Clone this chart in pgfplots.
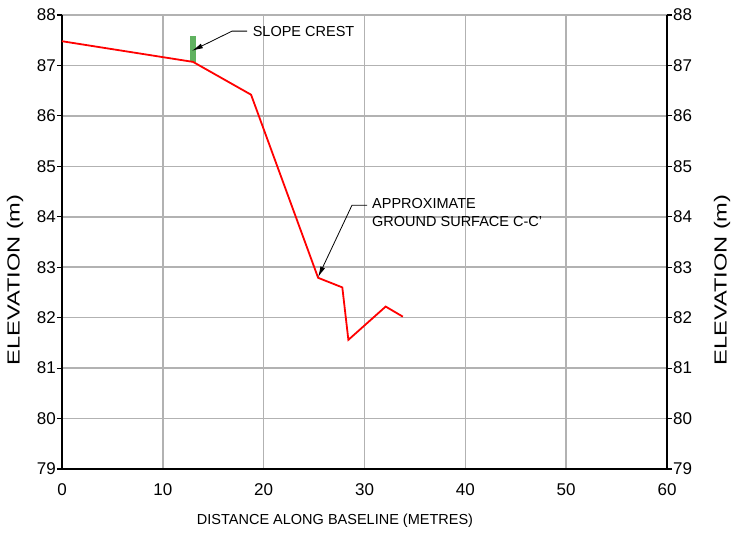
\documentclass[border=0pt]{standalone}
\usepackage{fontspec}
\setmainfont{Liberation Sans}
\usepackage{graphicx}
\usepackage{pgfplots}
\pgfplotsset{compat=1.18}
\usetikzlibrary{arrows.meta}
\definecolor{gridgray}{RGB}{178,178,178}
\definecolor{crestgreen}{RGB}{96,178,96}

\begin{document}
\begin{tikzpicture}
\pgfplotsset{
  sectionaxis/.style={
    scale only axis,
    width=605pt, height=454pt,
    at={(0,0)}, anchor=south west,
    xmin=0, xmax=60, ymin=79, ymax=88,
    xtick={0,10,...,60},
    ytick={79,80,...,88},
    tick align=outside,
    major tick length=5pt,
    /pgf/number format/assume math mode=true,
    tick label style={font=\fontsize{17}{19}\selectfont},
    axis line style={line width=1.2pt, black},
    y tick style={line width=1.2pt, black},
    x tick style={draw=none},
  }
}
\begin{axis}[
  sectionaxis,
  axis x line*=bottom,
  axis y line*=left,
  grid=major,
  grid style={gridgray, line width=1.5pt},
  yticklabel style={inner xsep=1pt},
  xticklabel style={yshift=-6pt},
]
  % slope crest marker
  \addplot[crestgreen, line width=6pt] coordinates {(13.0,87.07) (13.0,87.58)};
  % ground surface
  \addplot[red, line width=1.8pt] coordinates {
    (0,87.48)
    (13.0,87.07)
    (18.75,86.42)
    (25.4,82.79)
    (27.8,82.60)
    (28.4,81.56)
    (32.1,82.22)
    (33.8,82.02)
  };
  \draw[line width=0.8pt, -{Latex[length=11pt,width=5pt]}]
    (axis cs:18.35,87.68) -- (axis cs:16.86,87.68) -- (axis cs:12.89,87.29);
  \node[anchor=west, inner sep=0pt, font=\fontsize{14.5}{16}\selectfont]
    at (axis cs:18.9,87.68) {SLOPE CREST};
  \draw[line width=0.8pt, -{Latex[length=11pt,width=5pt]}]
    (axis cs:30.25,84.23) -- (axis cs:28.76,84.23) -- (axis cs:25.39,82.80);
  \node[anchor=north west, inner sep=0pt, align=left, font=\fontsize{14.5}{17.5}\selectfont]
    at (axis cs:30.74,84.36) {APPROXIMATE\\GROUND SURFACE C-C'};
\end{axis}
\begin{axis}[
  sectionaxis,
  axis x line=none,
  axis y line*=right,
  yticklabel pos=right,
  yticklabel style={inner xsep=1pt},
]
\end{axis}
\node[rotate=90, font=\fontsize{17.5}{20}\selectfont] at (-47pt,189pt)
  {\scalebox{1.35}[1]{ELEVATION (m)}};
\node[rotate=90, font=\fontsize{17.5}{20}\selectfont] at (660pt,189pt)
  {\scalebox{1.35}[1]{ELEVATION (m)}};
\node[font=\fontsize{14.5}{16}\selectfont] at (273pt,-52pt)
  {DISTANCE ALONG BASELINE (METRES)};
\pgfresetboundingbox
\path[use as bounding box] (-62pt,-71pt) rectangle (689pt,469pt);
\end{tikzpicture}
\end{document}
